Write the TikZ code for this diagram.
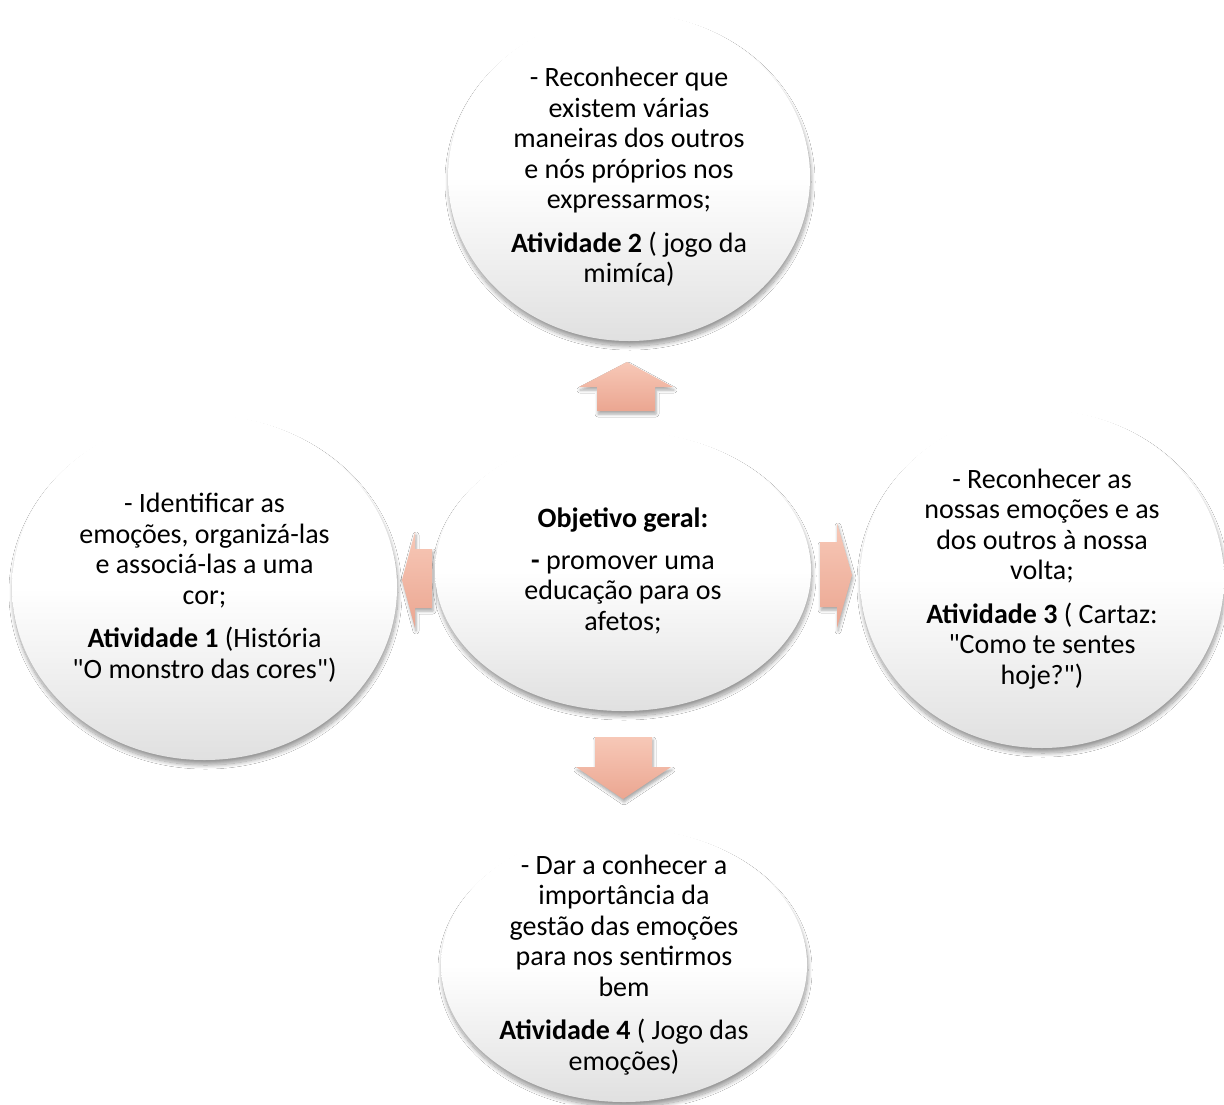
\documentclass[tikz,border=0pt]{standalone}
\usepackage{fontspec}
\setmainfont{Carlito}[Ligatures=TeXOff]
\usetikzlibrary{shapes.geometric,shadows.blur}
\definecolor{arrtop}{RGB}{247,200,183}
\definecolor{arrbot}{RGB}{235,166,145}
\definecolor{circbot}{RGB}{224,224,224}
\tikzset{
  bubble/.style={ellipse, inner sep=0pt, draw=none,
    top color=white, bottom color=circbot, middle color=white,
    blur shadow={shadow xshift=1pt, shadow yshift=-5pt, shadow blur radius=4pt, shadow opacity=40, shadow blur steps=16}},
  blockarrow/.style={draw=none, top color=arrtop, bottom color=arrbot,
    blur shadow={shadow xshift=1pt, shadow yshift=-3pt, shadow blur radius=3pt, shadow opacity=35}},
  lbl/.style={align=center, font=\fontsize{28}{30.5}\selectfont, text=black, inner sep=0pt}
}
\begin{document}
\begin{tikzpicture}[x=1pt,y=-1pt]
\useasboundingbox[fill=white] (0,0) rectangle (1224,1104);

% arrows
\path[blockarrow] (597,411) -- (597,387) -- (579,387) -- (627,362) -- (673,387) -- (655,387) -- (655,411) -- cycle;
\path[blockarrow] (595,737) -- (652,737) -- (652,767) -- (671,767) -- (623,799) -- (576,767) -- (595,767) -- cycle;
\path[blockarrow] (820,542) -- (837,542) -- (837,523) -- (852,575) -- (837,628) -- (837,607) -- (820,607) -- cycle;
\path[blockarrow] (432,549) -- (415,549) -- (415,532) -- (402,580) -- (415,628) -- (415,608) -- (432,608) -- cycle;

% bubbles
\node[bubble, minimum width=362pt, minimum height=328pt] (obj2) at (629,177) {};
\node[bubble, minimum width=376pt, minimum height=280pt] (geral) at (623,571) {};
\node[bubble, minimum width=385pt, minimum height=345pt] (obj1) at (204.5,587.5) {};
\node[bubble, minimum width=364pt, minimum height=338pt] (obj3) at (1042,579) {};
\node[bubble, minimum width=366pt, minimum height=274pt] (obj4) at (624,965) {};

% texts
\node[lbl] (t2) at (obj2.center) {- Reconhecer que\\ existem várias\\ maneiras dos outros\\ e nós próprios nos\\ expressarmos;\\[13pt] \textbf{Atividade 2} ( jogo da\\ mimíca)};
\node[lbl] (tg) at (geral.center) {\textbf{Objetivo geral:}\\[11pt] \textbf{-} promover uma\\ educação para os\\ afetos;};
\node[lbl] (t1) at (obj1.center) {- Identificar as\\ emoções, organizá-las\\ e associá-las a uma\\ cor;\\[13pt] \textbf{Atividade 1} (História\\ "O monstro das cores")};
\node[lbl] (t3) at (obj3.center) {- Reconhecer as\\ nossas emoções e as\\ dos outros à nossa\\ volta;\\[13pt] \textbf{Atividade 3} ( Cartaz:\\ "Como te sentes\\ hoje?")};
\node[lbl] (t4) at (obj4.center) {- Dar a conhecer a\\ importância da\\ gestão das emoções\\ para nos sentirmos\\ bem\\[13pt] \textbf{Atividade 4} ( Jogo das\\ emoções)};
\end{tikzpicture}
\end{document}
